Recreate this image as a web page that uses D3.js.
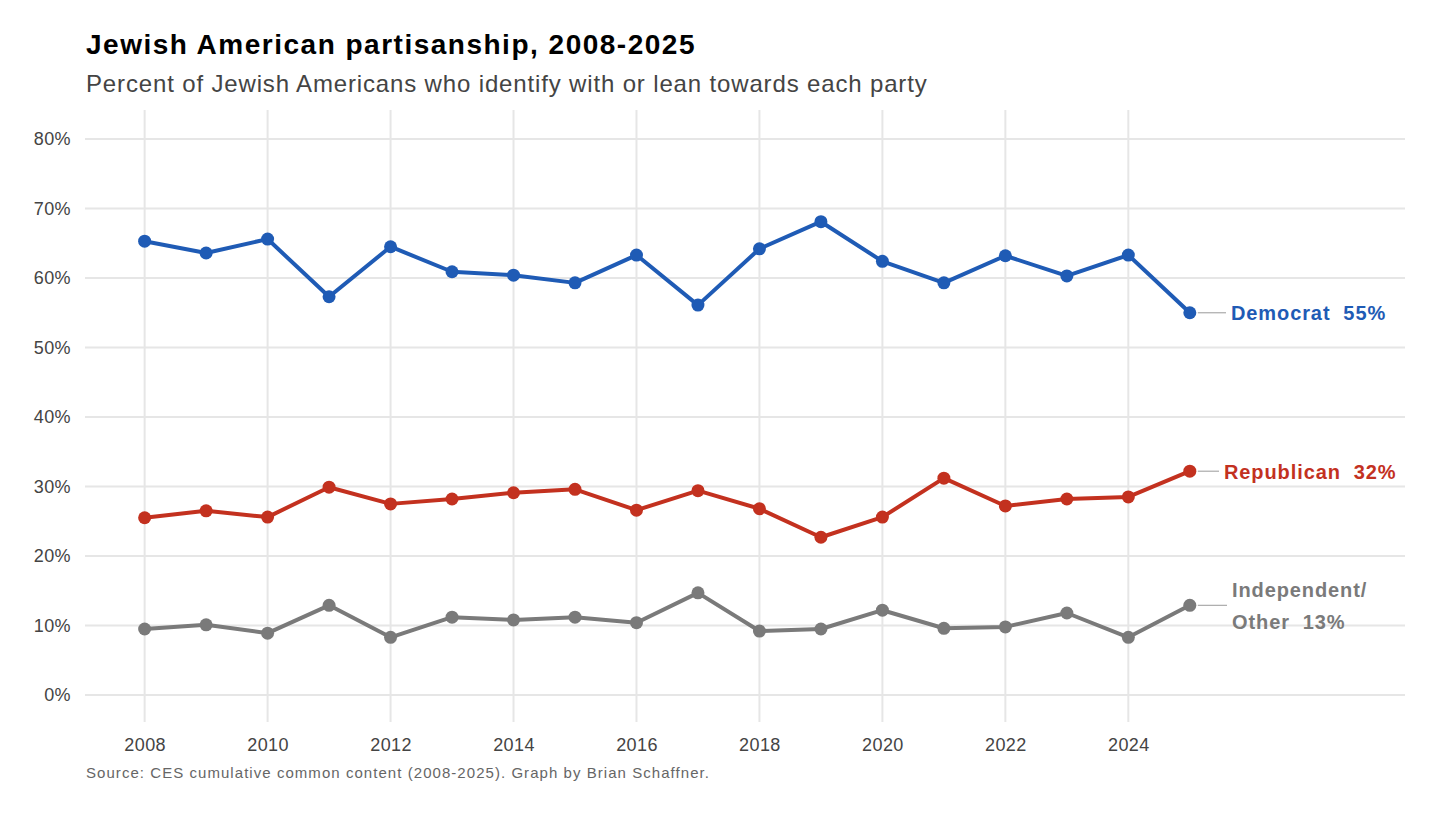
<!DOCTYPE html>
<html><head><meta charset="utf-8">
<script src="https://cdn.jsdelivr.net/npm/d3@7"></script>
<style>body{margin:0;background:#fff;font-family:"Liberation Sans",Arial,sans-serif;} text{white-space:pre;}</style>
</head><body><div id="vis"></div>
<script>
const YEARS = d3.range(2008, 2026);
const DEM = [65.3,63.6,65.6,57.3,64.5,60.9,60.4,59.3,63.3,56.1,64.2,68.1,62.4,59.3,63.2,60.3,63.3,55.0];
const REP = [25.5,26.5,25.6,29.9,27.5,28.2,29.1,29.6,26.6,29.4,26.8,22.7,25.6,31.2,27.2,28.2,28.5,32.2];
const OTH = [9.5,10.1,8.9,12.9,8.3,11.2,10.8,11.2,10.4,14.7,9.2,9.5,12.2,9.6,9.8,11.8,8.3,12.9];
const X_TICKS = [2008,2010,2012,2014,2016,2018,2020,2022,2024];
const Y_TICKS = [0,10,20,30,40,50,60,70,80];

const W = 1456, H = 825;
const svg = d3.select("#vis").append("svg").attr("width", W).attr("height", H);

const X = d3.scaleLinear().domain([2007.03, 2028.5]).range([85, 1405]);
const Y = d3.scaleLinear().domain([0, 80]).range([695, 139]);

//grid
svg.append("g").selectAll("line").data(Y_TICKS).enter().append("line")
  .attr("x1", 85).attr("x2", 1405).attr("y1", d => Y(d)).attr("y2", d => Y(d))
  .attr("stroke", "#e6e6e6").attr("stroke-width", 2);
svg.append("g").selectAll("line").data(X_TICKS).enter().append("line")
  .attr("y1", 110).attr("y2", 722).attr("x1", d => X(d)).attr("x2", d => X(d))
  .attr("stroke", "#e6e6e6").attr("stroke-width", 2);

//axes labels
const yAx = svg.append("g").attr("transform", "translate(74,0)")
  .call(d3.axisLeft(Y).tickValues(Y_TICKS).tickFormat(d => d + "%").tickSize(0));
yAx.select(".domain").remove();
yAx.selectAll("text").attr("font-size", 18).attr("letter-spacing", 0.4).attr("fill", "#444").attr("font-family", "Liberation Sans, Arial");
const xAx = svg.append("g").attr("transform", "translate(0,735)")
  .call(d3.axisBottom(X).tickValues(X_TICKS).tickFormat(d3.format("d")).tickSize(0));
xAx.select(".domain").remove();
xAx.selectAll("text").attr("font-size", 18).attr("letter-spacing", 0.4).attr("fill", "#444").attr("font-family", "Liberation Sans, Arial");

const series = [
  {vals: DEM, color: "#1f5bb5", label: ["Democrat  55%"], lx: 1231, ly: 313},
  {vals: REP, color: "#c3311f", label: ["Republican  32%"], lx: 1224, ly: 472},
  {vals: OTH, color: "#7a7a7a", label: ["Independent/", "Other  13%"], lx: 1232, ly: 590}
];
const line = d3.line().x((d, i) => X(YEARS[i])).y(d => Y(d));

series.forEach(s => {
  svg.append("path").datum(s.vals).attr("d", line).attr("fill", "none")
    .attr("stroke", s.color).attr("stroke-width", 4).attr("stroke-linejoin", "round");
  svg.append("g").selectAll("circle").data(s.vals).enter().append("circle")
    .attr("cx", (d, i) => X(YEARS[i])).attr("cy", d => Y(d)).attr("r", 6.5).attr("fill", s.color);
  const last = s.vals[s.vals.length - 1];
  svg.append("line").attr("x1", X(2025) + 8).attr("x2", s.lx - 5)
    .attr("y1", Y(last)).attr("y2", Y(last)).attr("stroke", "#aaa").attr("stroke-width", 1.2);
  s.label.forEach((t, j) => {
    svg.append("text").attr("x", s.lx).attr("y", s.ly + j * 32).attr("dy", "0.35em")
      .attr("font-size", 20).attr("letter-spacing", 0.9).attr("font-weight", "bold").attr("fill", s.color).text(t);
  });
});

svg.append("text").attr("x", 86).attr("y", 54).attr("font-size", 28).attr("letter-spacing", 1.5).attr("font-weight", "bold")
  .attr("fill", "#000").text("Jewish American partisanship, 2008-2025");
svg.append("text").attr("x", 86).attr("y", 92).attr("font-size", 24).attr("letter-spacing", 0.85).attr("fill", "#444")
  .text("Percent of Jewish Americans who identify with or lean towards each party");
svg.append("text").attr("x", 86).attr("y", 778).attr("font-size", 15).attr("letter-spacing", 1.05).attr("fill", "#666")
  .text("Source: CES cumulative common content (2008-2025). Graph by Brian Schaffner.");
</script></body></html>
